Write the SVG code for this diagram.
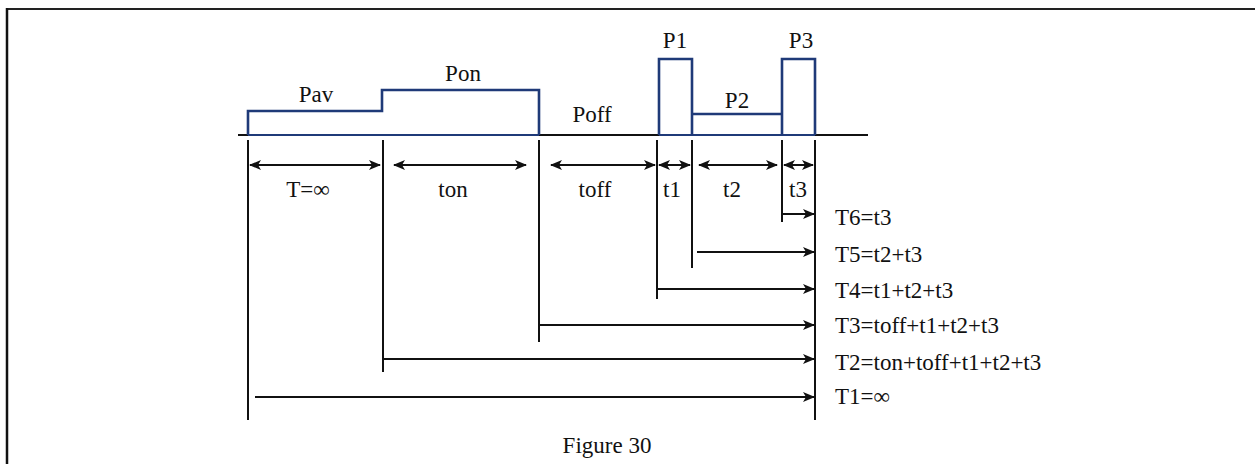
<svg xmlns="http://www.w3.org/2000/svg" width="1255" height="464" viewBox="0 0 1255 464">
<style>
text{font-family:"Liberation Serif","Times New Roman",serif;font-size:23px;fill:#111}
.mid{text-anchor:middle}
.pulse{fill:none;stroke:#1f3a78;stroke-width:2.6;stroke-linejoin:miter}
.ln{stroke:#111;stroke-width:2;fill:none}
.ar{stroke:#111;stroke-width:2;fill:none;marker-end:url(#ah)}
.da{stroke:#111;stroke-width:2;fill:none;marker-start:url(#ahs);marker-end:url(#ah)}
</style>
<defs>
<marker id="ah" viewBox="0 0 12 10" refX="11" refY="5" markerWidth="12" markerHeight="10" markerUnits="userSpaceOnUse" orient="auto">
<path d="M0,0 L12,5 L0,10 L3,5 Z" fill="#111"/>
</marker>
<marker id="ahs" viewBox="0 0 12 10" refX="1" refY="5" markerWidth="12" markerHeight="10" markerUnits="userSpaceOnUse" orient="auto">
<path d="M12,0 L0,5 L12,10 L9,5 Z" fill="#111"/>
</marker>
</defs>
<rect width="1255" height="464" fill="#fff"/>
<g id="frame">
<line x1="7" y1="9" x2="1255" y2="9" stroke="#222" stroke-width="2"/>
<line x1="7" y1="8" x2="7" y2="464" stroke="#111" stroke-width="2.5"/>
</g>
<g id="baseline">
<line x1="238" y1="135" x2="868" y2="135" class="ln"/>
</g>
<g id="pulses">
<path class="pulse" d="M248,135 V111 H382 V90 H539 V135"/>
<path class="pulse" d="M659,135 V59 H692 V135 M692,114 H782 M782,135 V59 H815 V135"/>
<line x1="248" y1="135" x2="539" y2="135" stroke="#1f3a78" stroke-width="2"/>
<line x1="659" y1="135" x2="815" y2="135" stroke="#1f3a78" stroke-width="2"/>
</g>
<g id="pulse-labels">
<text x="316" y="102" class="mid">Pav</text>
<text x="463" y="81" class="mid">Pon</text>
<text x="592" y="122" class="mid">Poff</text>
<text x="675" y="48" class="mid">P1</text>
<text x="737" y="108" class="mid">P2</text>
<text x="801" y="48" class="mid">P3</text>
</g>
<g id="connectors">
<line x1="248" y1="140" x2="248" y2="420" class="ln"/>
<line x1="383" y1="140" x2="383" y2="372" class="ln"/>
<line x1="539" y1="140" x2="539" y2="342" class="ln"/>
<line x1="657" y1="140" x2="657" y2="299" class="ln"/>
<line x1="692" y1="140" x2="692" y2="268" class="ln"/>
<line x1="782" y1="140" x2="782" y2="222" class="ln"/>
<line x1="815" y1="140" x2="815" y2="420" class="ln"/>
<line x1="250" y1="165" x2="380" y2="165" class="da"/>
<line x1="394" y1="165" x2="526" y2="165" class="da"/>
<line x1="551" y1="165" x2="655" y2="165" class="da"/>
<line x1="659" y1="165" x2="690" y2="165" class="da"/>
<line x1="699" y1="165" x2="777" y2="165" class="da"/>
<line x1="784" y1="165" x2="813" y2="165" class="da"/>
<line x1="782" y1="214" x2="814" y2="214" class="ar"/>
<line x1="697" y1="252" x2="814" y2="252" class="ar"/>
<line x1="657" y1="289" x2="814" y2="289" class="ar"/>
<line x1="539" y1="325" x2="814" y2="325" class="ar"/>
<line x1="383" y1="359" x2="814" y2="359" class="ar"/>
<line x1="255" y1="397" x2="814" y2="397" class="ar"/>
</g>
<g id="dim-labels">
<text x="308" y="197" class="mid">T=∞</text>
<text x="453" y="197" class="mid">ton</text>
<text x="595" y="197" class="mid">toff</text>
<text x="672" y="197" class="mid">t1</text>
<text x="732" y="197" class="mid">t2</text>
<text x="798" y="197" class="mid">t3</text>
</g>
<g id="time-labels">
<text x="835" y="225">T6=t3</text>
<text x="835" y="262">T5=t2+t3</text>
<text x="835" y="298">T4=t1+t2+t3</text>
<text x="835" y="333">T3=toff+t1+t2+t3</text>
<text x="835" y="370">T2=ton+toff+t1+t2+t3</text>
<text x="835" y="404">T1=∞</text>
</g>
<g id="caption">
<text x="607" y="453" class="mid">Figure 30</text>
</g>
</svg>
